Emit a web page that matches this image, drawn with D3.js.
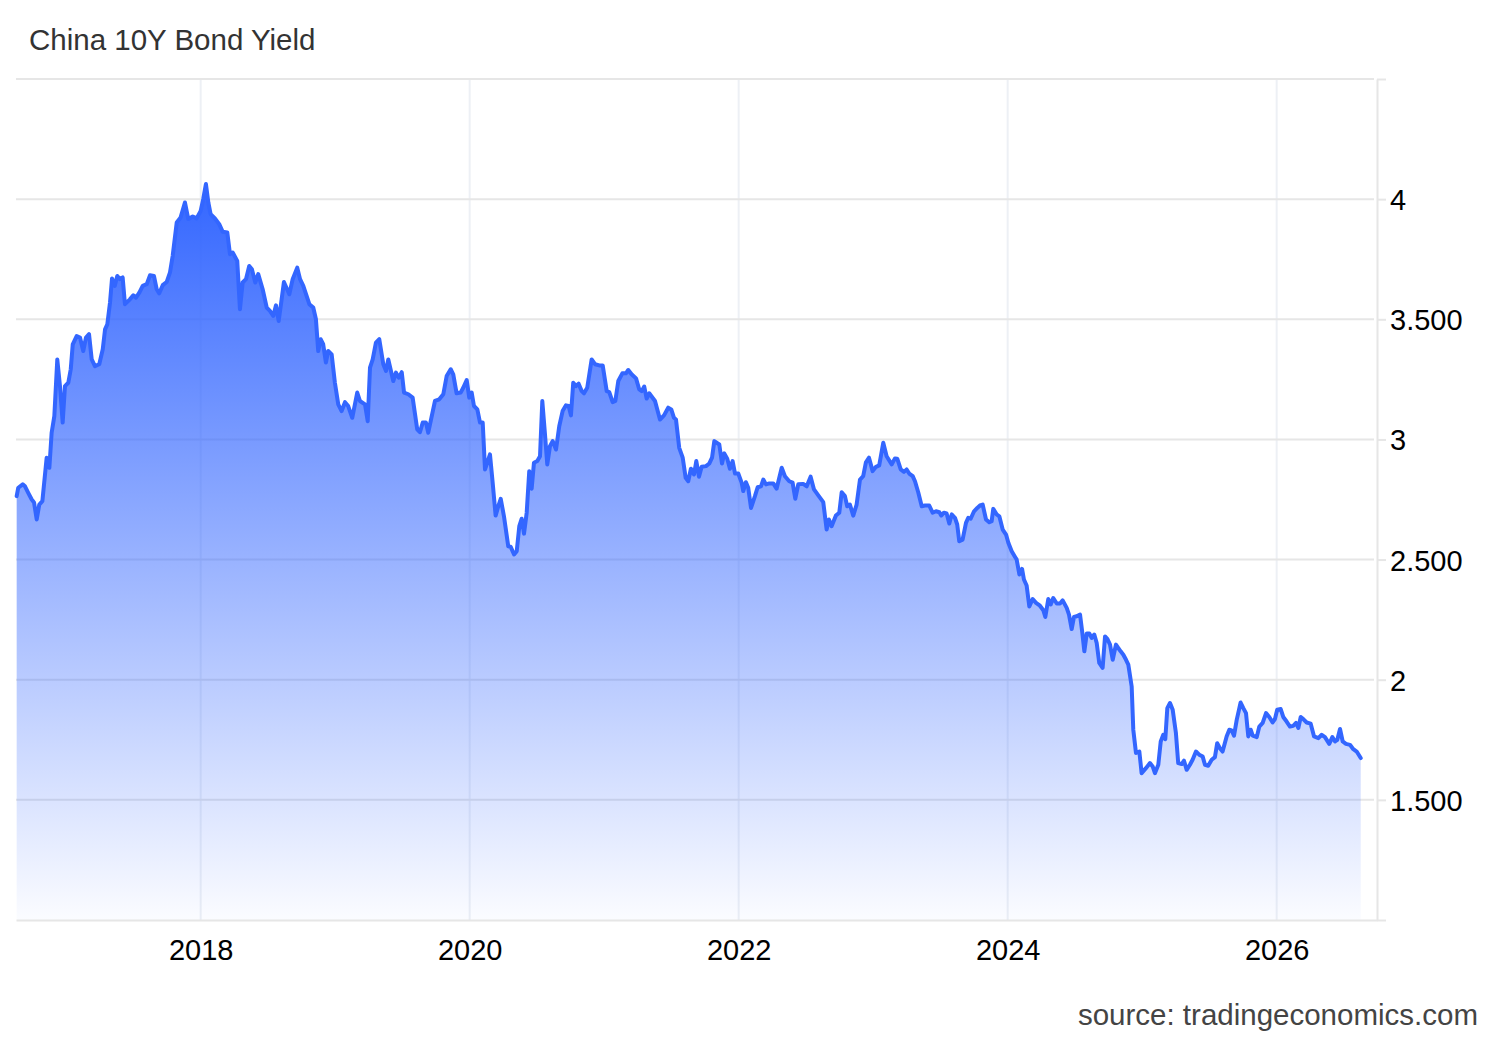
<!DOCTYPE html>
<html>
<head>
<meta charset="utf-8">
<script src="https://cdn.jsdelivr.net/npm/d3@7"></script>
<style>
    body { margin: 0; background: #ffffff; }
    svg { display: block; font-family: 'Liberation Sans', Arial, sans-serif; }
</style>
</head>
<body>
<div id="chart"></div>
<script>
// weekly-ish readings, dates as decimal years
const dates = [
    2016.632, 2016.644, 2016.677, 2016.694, 2016.718, 2016.744, 2016.761, 2016.781, 2016.800, 2016.823,
    2016.855, 2016.875, 2016.892, 2016.912, 2016.934, 2016.954, 2016.974, 2016.991, 2017.016, 2017.034,
    2017.049, 2017.078, 2017.103, 2017.127, 2017.147, 2017.170, 2017.190, 2017.214, 2017.246, 2017.272,
    2017.289, 2017.306, 2017.326, 2017.341, 2017.361, 2017.380, 2017.400, 2017.420, 2017.437, 2017.474,
    2017.499, 2017.519, 2017.544, 2017.569, 2017.599, 2017.623, 2017.653, 2017.673, 2017.692, 2017.718,
    2017.747, 2017.772, 2017.792, 2017.822, 2017.851, 2017.883, 2017.908, 2017.941, 2017.970, 2018.000,
    2018.019, 2018.039, 2018.057, 2018.074, 2018.106, 2018.138, 2018.164, 2018.198, 2018.218, 2018.238,
    2018.272, 2018.292, 2018.312, 2018.337, 2018.361, 2018.381, 2018.406, 2018.428, 2018.461, 2018.491,
    2018.515, 2018.540, 2018.560, 2018.580, 2018.602, 2018.619, 2018.659, 2018.684, 2018.718, 2018.739,
    2018.763, 2018.808, 2018.837, 2018.857, 2018.874, 2018.892, 2018.911, 2018.931, 2018.948, 2018.974,
    2018.998, 2019.023, 2019.048, 2019.073, 2019.097, 2019.127, 2019.164, 2019.184, 2019.222, 2019.242,
    2019.259, 2019.279, 2019.303, 2019.328, 2019.358, 2019.378, 2019.395, 2019.432, 2019.452, 2019.472,
    2019.495, 2019.512, 2019.544, 2019.576, 2019.610, 2019.630, 2019.651, 2019.675, 2019.692, 2019.742,
    2019.774, 2019.804, 2019.829, 2019.859, 2019.878, 2019.903, 2019.933, 2019.952, 2019.978, 2019.997,
    2020.015, 2020.032, 2020.057, 2020.077, 2020.097, 2020.114, 2020.131, 2020.151, 2020.171, 2020.193,
    2020.213, 2020.231, 2020.255, 2020.287, 2020.305, 2020.330, 2020.350, 2020.369, 2020.387, 2020.404,
    2020.424, 2020.443, 2020.461, 2020.478, 2020.503, 2020.523, 2020.540, 2020.560, 2020.577, 2020.597,
    2020.617, 2020.642, 2020.666, 2020.691, 2020.716, 2020.736, 2020.753, 2020.770, 2020.790, 2020.810,
    2020.833, 2020.850, 2020.874, 2020.907, 2020.932, 2020.964, 2020.989, 2021.019, 2021.038, 2021.063,
    2021.083, 2021.105, 2021.135, 2021.162, 2021.179, 2021.204, 2021.237, 2021.261, 2021.279, 2021.298,
    2021.316, 2021.335, 2021.378, 2021.415, 2021.445, 2021.476, 2021.499, 2021.519, 2021.534, 2021.558,
    2021.584, 2021.606, 2021.625, 2021.645, 2021.668, 2021.685, 2021.705, 2021.725, 2021.757, 2021.782,
    2021.802, 2021.819, 2021.856, 2021.876, 2021.893, 2021.915, 2021.935, 2021.955, 2021.973, 2021.997,
    2022.022, 2022.034, 2022.054, 2022.071, 2022.092, 2022.121, 2022.141, 2022.166, 2022.183, 2022.203,
    2022.228, 2022.257, 2022.282, 2022.320, 2022.344, 2022.376, 2022.401, 2022.421, 2022.443, 2022.480,
    2022.506, 2022.535, 2022.560, 2022.592, 2022.629, 2022.654, 2022.671, 2022.691, 2022.723, 2022.748,
    2022.766, 2022.790, 2022.807, 2022.827, 2022.852, 2022.877, 2022.902, 2022.926, 2022.946, 2022.969,
    2022.996, 2023.021, 2023.045, 2023.075, 2023.100, 2023.138, 2023.162, 2023.179, 2023.205, 2023.229,
    2023.249, 2023.268, 2023.294, 2023.311, 2023.336, 2023.361, 2023.385, 2023.417, 2023.442, 2023.467,
    2023.492, 2023.506, 2023.526, 2023.546, 2023.566, 2023.584, 2023.608, 2023.625, 2023.640, 2023.665,
    2023.690, 2023.707, 2023.725, 2023.750, 2023.774, 2023.794, 2023.814, 2023.839, 2023.863, 2023.881,
    2023.893, 2023.918, 2023.938, 2023.963, 2023.988, 2024.005, 2024.030, 2024.055, 2024.067, 2024.087,
    2024.107, 2024.121, 2024.141, 2024.161, 2024.186, 2024.211, 2024.240, 2024.265, 2024.280, 2024.302,
    2024.320, 2024.339, 2024.365, 2024.389, 2024.409, 2024.439, 2024.456, 2024.476, 2024.493, 2024.513,
    2024.538, 2024.555, 2024.570, 2024.588, 2024.607, 2024.625, 2024.644, 2024.662, 2024.681, 2024.706,
    2024.724, 2024.741, 2024.761, 2024.781, 2024.805, 2024.822, 2024.840, 2024.860, 2024.880, 2024.897,
    2024.922, 2024.934, 2024.954, 2024.979, 2024.996, 2025.028, 2025.058, 2025.078, 2025.095, 2025.120,
    2025.138, 2025.157, 2025.172, 2025.187, 2025.207, 2025.227, 2025.251, 2025.268, 2025.294, 2025.311,
    2025.331, 2025.355, 2025.375, 2025.400, 2025.424, 2025.450, 2025.467, 2025.491, 2025.517, 2025.541,
    2025.558, 2025.578, 2025.598, 2025.628, 2025.648, 2025.665, 2025.683, 2025.703, 2025.732, 2025.752,
    2025.772, 2025.789, 2025.807, 2025.822, 2025.852, 2025.871, 2025.896, 2025.921, 2025.945, 2025.970,
    2025.987, 2026.004, 2026.030, 2026.049, 2026.074, 2026.099, 2026.123, 2026.144, 2026.161, 2026.179,
    2026.198, 2026.223, 2026.253, 2026.278, 2026.310, 2026.335, 2026.359, 2026.391, 2026.414, 2026.434,
    2026.451, 2026.471, 2026.491, 2026.515, 2026.545, 2026.570, 2026.595, 2026.625
];

const yields = [
    2.764, 2.799, 2.813, 2.805, 2.778, 2.750, 2.738, 2.667, 2.729, 2.743,
    2.924, 2.882, 3.028, 3.097, 3.333, 3.222, 3.070, 3.222, 3.236, 3.292,
    3.396, 3.430, 3.424, 3.368, 3.424, 3.438, 3.333, 3.305, 3.313, 3.375,
    3.458, 3.479, 3.570, 3.670, 3.639, 3.680, 3.667, 3.674, 3.563, 3.583,
    3.600, 3.590, 3.611, 3.639, 3.646, 3.683, 3.680, 3.625, 3.608, 3.642,
    3.655, 3.695, 3.764, 3.903, 3.924, 3.986, 3.917, 3.928, 3.920, 3.951,
    4.000, 4.063, 3.986, 3.938, 3.920, 3.896, 3.864, 3.861, 3.771, 3.778,
    3.743, 3.542, 3.653, 3.667, 3.722, 3.708, 3.653, 3.688, 3.625, 3.549,
    3.535, 3.514, 3.558, 3.493, 3.583, 3.655, 3.604, 3.667, 3.715, 3.667,
    3.639, 3.563, 3.549, 3.500, 3.368, 3.417, 3.396, 3.320, 3.368, 3.354,
    3.236, 3.146, 3.118, 3.155, 3.139, 3.090, 3.195, 3.160, 3.146, 3.076,
    3.299, 3.333, 3.403, 3.417, 3.313, 3.285, 3.333, 3.243, 3.278, 3.257,
    3.280, 3.195, 3.188, 3.174, 3.042, 3.030, 3.070, 3.070, 3.028, 3.160,
    3.167, 3.188, 3.264, 3.292, 3.271, 3.192, 3.195, 3.215, 3.247, 3.174,
    3.195, 3.139, 3.125, 3.070, 3.070, 2.875, 2.903, 2.938, 2.820, 2.683,
    2.722, 2.753, 2.680, 2.555, 2.553, 2.521, 2.535, 2.639, 2.670, 2.608,
    2.695, 2.868, 2.795, 2.903, 2.910, 2.930, 3.160, 3.021, 2.896, 2.972,
    2.993, 2.958, 3.055, 3.118, 3.142, 3.139, 3.100, 3.236, 3.222, 3.232,
    3.201, 3.192, 3.215, 3.333, 3.313, 3.308, 3.308, 3.201, 3.197, 3.155,
    3.160, 3.243, 3.275, 3.275, 3.289, 3.271, 3.254, 3.208, 3.201, 3.220,
    3.170, 3.192, 3.160, 3.083, 3.100, 3.132, 3.125, 3.090, 3.083, 2.965,
    2.924, 2.840, 2.826, 2.878, 2.854, 2.910, 2.845, 2.886, 2.889, 2.900,
    2.924, 2.993, 2.979, 2.900, 2.942, 2.920, 2.878, 2.910, 2.858, 2.858,
    2.820, 2.785, 2.822, 2.799, 2.715, 2.764, 2.801, 2.805, 2.833, 2.813,
    2.817, 2.817, 2.795, 2.882, 2.847, 2.826, 2.820, 2.753, 2.813, 2.815,
    2.805, 2.845, 2.792, 2.767, 2.739, 2.625, 2.667, 2.639, 2.683, 2.695,
    2.780, 2.764, 2.722, 2.729, 2.683, 2.729, 2.833, 2.847, 2.905, 2.924,
    2.868, 2.886, 2.892, 2.986, 2.930, 2.896, 2.921, 2.920, 2.875, 2.865,
    2.875, 2.858, 2.847, 2.826, 2.778, 2.722, 2.725, 2.725, 2.695, 2.701,
    2.697, 2.683, 2.695, 2.692, 2.650, 2.688, 2.674, 2.646, 2.576, 2.583,
    2.653, 2.674, 2.670, 2.701, 2.715, 2.725, 2.729, 2.667, 2.655, 2.660,
    2.711, 2.688, 2.680, 2.625, 2.604, 2.570, 2.535, 2.511, 2.500, 2.438,
    2.461, 2.417, 2.392, 2.305, 2.336, 2.320, 2.308, 2.289, 2.261, 2.336,
    2.313, 2.340, 2.317, 2.317, 2.330, 2.299, 2.271, 2.211, 2.261, 2.264,
    2.271, 2.195, 2.118, 2.192, 2.192, 2.174, 2.188, 2.153, 2.070, 2.049,
    2.180, 2.170, 2.146, 2.083, 2.146, 2.132, 2.118, 2.104, 2.083, 2.063,
    1.972, 1.792, 1.695, 1.701, 1.611, 1.632, 1.653, 1.639, 1.611, 1.646,
    1.743, 1.771, 1.753, 1.882, 1.903, 1.875, 1.778, 1.653, 1.649, 1.663,
    1.625, 1.646, 1.667, 1.701, 1.688, 1.680, 1.646, 1.642, 1.667, 1.678,
    1.736, 1.715, 1.701, 1.764, 1.792, 1.789, 1.767, 1.833, 1.905, 1.882,
    1.861, 1.764, 1.792, 1.767, 1.761, 1.805, 1.820, 1.861, 1.845, 1.822,
    1.836, 1.875, 1.878, 1.845, 1.826, 1.805, 1.808, 1.820, 1.799, 1.845,
    1.836, 1.822, 1.817, 1.764, 1.757, 1.771, 1.761, 1.733, 1.761, 1.743,
    1.750, 1.795, 1.743, 1.733, 1.729, 1.711, 1.701, 1.674
];

const yearTicks = [2018, 2020, 2022, 2024, 2026];
const yTicks = [1, 1.5, 2, 2.5, 3, 3.5, 4, 4.5];
const yTickLabels = ['', '1.500', '2', '2.500', '3', '3.500', '4', ''];

const fmt = {
    width: 1500,
    height: 1040,
    plot: { left: 16, right: 1377, top: 79, bottom: 920 },
    xrange: [2016.627, 2026.746],
    yrange: [1, 4.5],
    color: '#3366ff',
    title: 'China 10Y Bond Yield',
    source: 'source: tradingeconomics.com'
};

const data = dates.map((t, i) => ({ x: t, y: yields[i] }));

let svg = d3.select('#chart').append('svg')
    .attr('version', 1.1)
    .attr('xmlns', 'http://www.w3.org/2000/svg')
    .attr('width', fmt.width)
    .attr('height', fmt.height);

let x = d3.scaleLinear().domain(fmt.xrange).range([fmt.plot.left, fmt.plot.right]),
    y = d3.scaleLinear().domain(fmt.yrange).range([fmt.plot.bottom, fmt.plot.top]);

let grad = svg.append('defs').append('linearGradient')
    .attr('id', 'area-fill')
    .attr('gradientUnits', 'userSpaceOnUse')
    .attr('x1', 0).attr('x2', 0)
    .attr('y1', y(d3.max(yields)))
    .attr('y2', y(fmt.yrange[0]));
grad.append('stop').attr('offset', 0).attr('stop-color', fmt.color).attr('stop-opacity', 1);
grad.append('stop').attr('offset', 1).attr('stop-color', fmt.color).attr('stop-opacity', 0.02);

// grid
svg.append('g').selectAll('line')
    .data(yearTicks)
    .enter().append('line')
    .attr('x1', (d) => x(d)).attr('x2', (d) => x(d))
    .attr('y1', fmt.plot.top).attr('y2', fmt.plot.bottom)
    .attr('stroke', '#edf0f5')
    .attr('stroke-width', 2);

svg.append('g').selectAll('line')
    .data(yTicks.slice(1))
    .enter().append('line')
    .attr('x1', fmt.plot.left).attr('x2', fmt.plot.right - 3)
    .attr('y1', (d) => y(d)).attr('y2', (d) => y(d))
    .attr('stroke', '#e6e6e6')
    .attr('stroke-width', 2);

let area = d3.area()
    .x((d) => x(d.x))
    .y0(y(fmt.yrange[0]))
    .y1((d) => y(d.y));

let line = d3.line()
    .x((d) => x(d.x))
    .y((d) => y(d.y));

svg.append('path').datum(data)
    .attr('fill', 'url(#area-fill)')
    .attr('d', area);

svg.append('path').datum(data)
    .attr('fill', 'none')
    .attr('stroke', fmt.color)
    .attr('stroke-width', 4)
    .attr('stroke-linejoin', 'round')
    .attr('stroke-linecap', 'round')
    .attr('d', line);

// axes
let bottom = svg.append('g')
    .attr('transform', 'translate(0,' + fmt.plot.bottom + ')')
    .call(d3.axisBottom(x).tickValues(yearTicks).tickSize(0).tickFormat(d3.format('d')));
bottom.select('.domain').attr('stroke', '#e6e6e6').attr('stroke-width', 2);
bottom.selectAll('text')
    .attr('y', 19)
    .attr('fill', '#000000')
    .style('font-size', '29px')
    .style('font-family', "'Liberation Sans', Arial, sans-serif");

let right = svg.append('g')
    .attr('transform', 'translate(' + fmt.plot.right + ',0)')
    .call(d3.axisRight(y).tickValues(yTicks).tickSize(9).tickSizeOuter(0).tickPadding(4)
        .tickFormat((d, i) => yTickLabels[i]));
right.select('.domain').attr('stroke', '#e6e6e6').attr('stroke-width', 2);
right.selectAll('.tick line').attr('stroke', '#e6e6e6').attr('stroke-width', 2);
right.selectAll('text')
    .attr('dy', '0.36em')
    .attr('fill', '#000000')
    .style('font-size', '29px')
    .style('font-family', "'Liberation Sans', Arial, sans-serif");

svg.append('text')
    .attr('x', 29)
    .attr('y', 50)
    .attr('fill', '#333333')
    .style('font-size', '29.5px')
    .text(fmt.title);

svg.append('text')
    .attr('x', 1478)
    .attr('y', 1025)
    .attr('text-anchor', 'end')
    .attr('fill', '#444444')
    .style('font-size', '29.5px')
    .text(fmt.source);
</script>
</body>
</html>
